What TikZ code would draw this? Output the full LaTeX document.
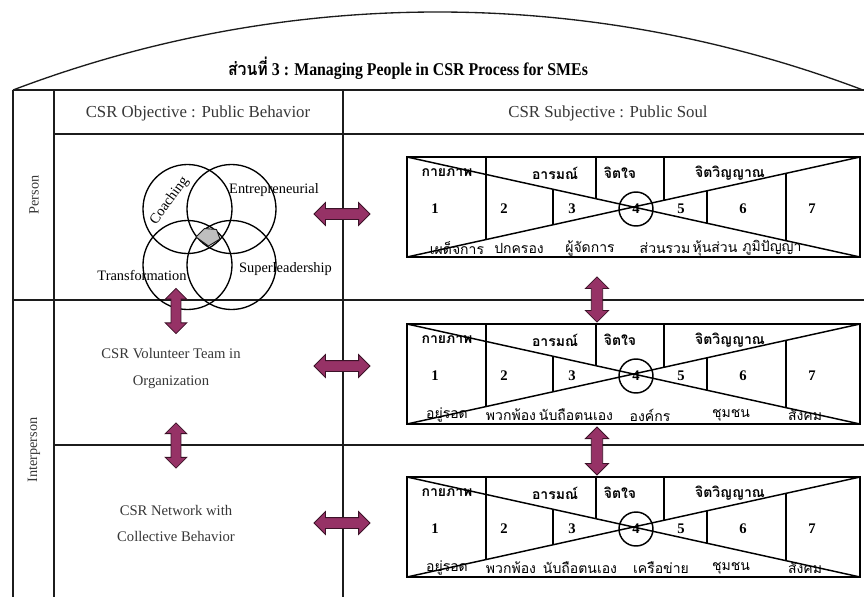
\documentclass[tikz,border=0pt]{standalone}
\usepackage{fontspec}
\setmainfont{Liberation Serif}
\newfontfamily\thaifont[Script=Thai]{Loma}
\usetikzlibrary{shapes.arrows,calc}

\definecolor{ink}{RGB}{28,28,28}
\definecolor{headink}{RGB}{55,55,55}
\definecolor{arrowfill}{RGB}{150,50,102}
\definecolor{arrowedge}{RGB}{60,18,40}
\definecolor{patch}{RGB}{190,190,190}

\tikzset{
  outerline/.style={draw=ink, line width=1.5pt},
  innerline/.style={draw=ink, line width=0.8pt},
  tablebox/.style={draw=black, line width=1.4pt},
  cellline/.style={draw=black, line width=1.1pt},
  vennring/.style={circle, draw=black, line width=1pt, minimum size=66.75pt, inner sep=0pt},
  ringfour/.style={circle, draw=black, line width=1.1pt, minimum size=25.5pt, inner sep=0pt,
                   font=\fontsize{11}{13}\selectfont\bfseries},
  headtext/.style={text=headink, font=\fontsize{12.6}{15}\selectfont},
  sidetext/.style={text=headink, rotate=90, font=\fontsize{10.7}{13}\selectfont},
  colltext/.style={text=headink, align=center, font=\fontsize{11}{20}\selectfont},
  venntext/.style={text=black, font=\fontsize{10.8}{13}\selectfont, inner sep=0pt},
  numtext/.style={text=black, font=\fontsize{11}{13}\selectfont\bfseries},
  thaitop/.style={text=black, font=\fontsize{10.5}{13}\selectfont\thaifont\bfseries, inner sep=0pt},
  thaibot/.style={text=black, font=\fontsize{10.5}{13}\selectfont\thaifont, inner sep=0pt},
  blockarrow/.style={double arrow, draw=arrowedge, fill=arrowfill, line width=0.6pt,
                     inner xsep=0pt, inner ysep=3.75pt, double arrow head extend=4.5pt,
                     minimum width=16.5pt, minimum height=42pt},
  uparrow/.style={blockarrow, rotate=90, minimum height=34pt, minimum width=15.5pt,
                  inner ysep=3.4pt, double arrow head extend=4.4pt}
}

% one "public soul" scale: box, crossing diagonals, cell walls, headings and numbers
\newcommand\soultable[2]{%
  \coordinate (#1nw) at (407,#2);
  \coordinate (#1ne) at (860,#2);
  \coordinate (#1sw) at (407,#2+100);
  \coordinate (#1se) at (860,#2+100);
  \draw[tablebox] (#1nw) rectangle (#1se);
  \draw[cellline] (#1nw) -- (#1se) (#1sw) -- (#1ne);
  \draw[cellline] ($(#1nw)!0.1744!(#1ne)$) -- ($(#1sw)!0.1744!(#1ne)$);
  \draw[cellline] ($(#1nw)!0.3223!(#1se)$) -- ($(#1sw)!0.3223!(#1ne)$);
  \draw[cellline] ($(#1nw)!0.4172!(#1ne)$) -- ($(#1nw)!0.4172!(#1se)$);
  \draw[cellline] ($(#1nw)!0.5673!(#1ne)$) -- ($(#1sw)!0.5673!(#1ne)$);
  \draw[cellline] ($(#1sw)!0.6623!(#1ne)$) -- ($(#1nw)!0.6623!(#1se)$);
  \draw[cellline] ($(#1sw)!0.8366!(#1ne)$) -- ($(#1nw)!0.8366!(#1se)$);
  \node[ringfour] (#1four) at (636,#2+52) {4};
  \node[thaitop] (#1body) at (447,#2+16) {กายภาพ};
  \node[thaitop] (#1emo)  at (555,#2+16) {อารมณ์};
  \node[thaitop] (#1mind) at (620,#2+16) {จิตใจ};
  \node[thaitop] (#1soul) at (730,#2+16) {จิตวิญญาณ};
  \foreach \x/\n in {435/1,504/2,572/3,681/5,743/6,812/7}
    \node[numtext] (#1n\n) at (\x,#2+52) {\n};
}

\begin{document}
\begin{tikzpicture}[x=0.75pt,y=-0.75pt]
\useasboundingbox (0,0) rectangle (864,597);

% roof and title
\draw[draw=ink, line width=1pt] (13,90) .. controls (287,-14) and (588,-14) .. (863,90);
\node[font=\fontsize{13.5}{16}\selectfont\bfseries] (title) at (408,68)
  {\scalebox{0.88}[1]{{\thaifont ส่วนที่} 3 : Managing People in CSR Process for SMEs}};

% frame
\draw[outerline] (13,90) -- (13,597);
\draw[outerline] (13,90) -- (864,90);
\draw[outerline] (54,90) -- (54,597);
\draw[outerline] (54,134) -- (864,134);
\draw[outerline] (13,300) -- (864,300);
\draw[innerline] (54,445) -- (864,445);
\draw[innerline] (343,90) -- (343,597);

% headings
\node[headtext] (objective) at (198,113) {CSR Objective : Public Behavior};
\node[headtext] (subjective) at (608,113) {CSR Subjective : Public Soul};
\node[sidetext] (person) at (34,195) {Person};
\node[sidetext] (interperson) at (34,450) {Interperson};

% leadership rings
\node[vennring] (coach) at (187.5,209) {};
\node[vennring] (entre) at (231.5,209) {};
\node[vennring] (trans) at (187.5,265) {};
\node[vennring] (super) at (231.5,265) {};
\filldraw[fill=patch, draw=ink, line width=0.7pt]
  (196,237) -- (204.5,228.5) -- (216.5,229.5) -- (220,239) -- (208.5,246) -- cycle;
\node[venntext, rotate=54] (coachlbl) at (169.5,201) {Coaching};
\node[venntext] (entrelbl) at (274,190) {Entrepreneurial};
\node[venntext] (translbl) at (142,275) {Transformation};
\node[venntext] (superlbl) at (285.5,269) {Superleadership};

% collective levels
\node[colltext] (team) at (171,368.5) {CSR Volunteer Team in\\Organization};
\node[colltext] (network) at (176,523.5) {CSR Network with\\Collective Behavior};

% public soul scales
\soultable{ta}{157}
\foreach \x/\t [count=\i] in {457/เผด็จการ,519/ปกครอง,590/ผู้จัดการ,665/ส่วนรวม,715/หุ้นส่วน,772/ภูมิปัญญา}
  \node[thaibot] (tab\i) at (\x,248) {\t};
\soultable{tb}{324}
\foreach \x/\t [count=\i] in {447/อยู่รอด,511/พวกพ้อง,576/นับถือตนเอง,650/องค์กร,731/ชุมชน,805/สังคม}
  \node[thaibot] (tbb\i) at (\x,415) {\t};
\soultable{tc}{477}
\foreach \x/\t [count=\i] in {447/อยู่รอด,511/พวกพ้อง,580/นับถือตนเอง,661/เครือข่าย,731/ชุมชน,805/สังคม}
  \node[thaibot] (tcb\i) at (\x,568) {\t};

% block arrows
\node[blockarrow] (link1) at (342,214) {};
\node[blockarrow] (link2) at (342,366) {};
\node[blockarrow] (link3) at (342,523) {};
\node[uparrow] (step1) at (176,311) {};
\node[uparrow] (step2) at (176,445.5) {};
\node[uparrow, minimum width=17pt, inner ysep=4pt] (stepA) at (597,299.5) {};
\node[uparrow, minimum width=17pt, inner ysep=4pt, minimum height=36pt] (stepB) at (597,451) {};
\end{tikzpicture}
\end{document}
